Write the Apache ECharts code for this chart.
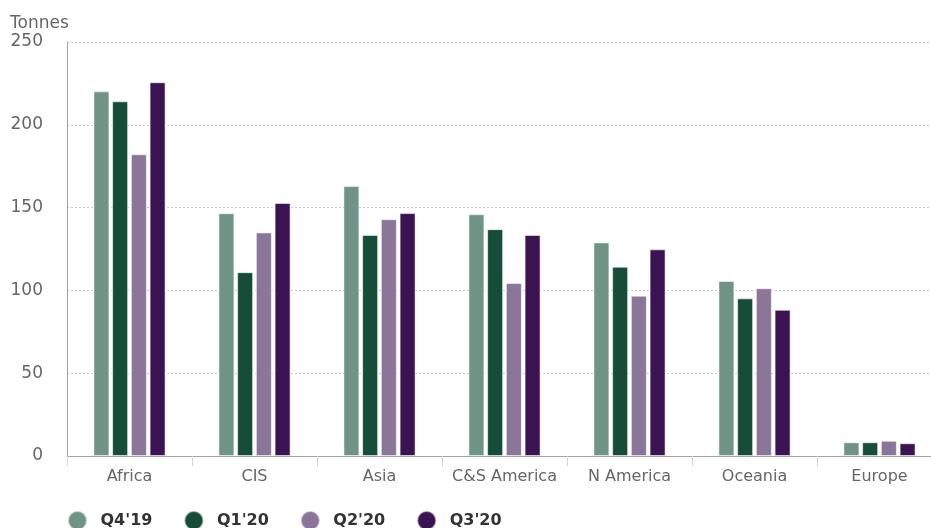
<!DOCTYPE html>
<html>
<head>
<meta charset="utf-8">
<script src="https://cdn.jsdelivr.net/npm/echarts@6/dist/echarts.min.js"></script>
<style>
  html, body { margin: 0; padding: 0; background: #fff; overflow: hidden; }
  /* canvas is slightly wider than the window, so the last category is clipped at the right edge */
  #chart { width: 942px; height: 528px; }
</style>
</head>
<body>
<div id="chart"></div>
<script>
// Gold production by region, tonnes per quarter
const regions = ['Africa', 'CIS', 'Asia', 'C&S America', 'N America', 'Oceania', 'Europe'];
const quarters = ["Q4'19", "Q1'20", "Q2'20", "Q3'20"];
const q4_19 = [220.2, 146.6, 163.0, 146.0, 129.0, 105.7, 8.3];
const q1_20 = [214.2, 111.0, 133.5, 137.0, 114.3, 95.2, 8.3];
const q2_20 = [182.2, 135.0, 143.0, 104.5, 96.8, 101.3, 9.2];
const q3_20 = [225.7, 152.8, 146.7, 133.5, 124.8, 88.3, 7.7];
const yTicks = [0, 50, 100, 150, 200, 250];

const colors = ['#6f9485', '#154d38', '#8b7599', '#3c1352'];
const seriesValues = [q4_19, q1_20, q2_20, q3_20];
const font = 'DejaVu Sans, Verdana, sans-serif';

const chart = echarts.init(document.getElementById('chart'), null, { renderer: 'canvas' });
chart.setOption({
  animation: false,
  color: colors,
  title: {
    text: 'Tonnes',
    left: 10, top: 15, padding: 0,
    textStyle: { fontFamily: font, fontSize: 17, fontWeight: 'normal', color: '#666' }
  },
  grid: { left: 67, right: 0, top: 42, bottom: 72, containLabel: false },
  legend: {
    data: quarters,
    left: 67, top: 510, padding: 0,
    icon: 'circle',
    itemWidth: 36, itemHeight: 19,
    itemGap: 31,
    textStyle: { fontFamily: font, fontSize: 16, fontWeight: 'bold', color: '#333' }
  },
  xAxis: {
    type: 'category',
    data: regions,
    axisLine: { lineStyle: { color: '#a6a6a6', width: 1 } },
    axisTick: { show: true, length: 10, lineStyle: { color: '#ccd6eb' } },
    axisLabel: { fontFamily: font, fontSize: 16, color: '#666', margin: 13, interval: 0 }
  },
  yAxis: {
    type: 'value',
    min: yTicks[0], max: yTicks[yTicks.length - 1], interval: 50,
    axisLine: { show: true, lineStyle: { color: '#a6a6a6' } },
    axisTick: { show: false },
    splitLine: { lineStyle: { color: '#c8c8c8', type: [2, 2] } },
    axisLabel: { fontFamily: font, fontSize: 17, color: '#666', margin: 24,
      formatter: v => yTicks.includes(v) ? String(v) : '' }
  },
  series: quarters.map((q, i) => ({
    name: q,
    type: 'bar',
    data: seriesValues[i],
    barWidth: 16,
    barGap: '17%',
    itemStyle: { color: colors[i], borderColor: 'rgba(255,255,255,0.55)', borderWidth: 1 }
  }))
});
</script>
</body>
</html>
